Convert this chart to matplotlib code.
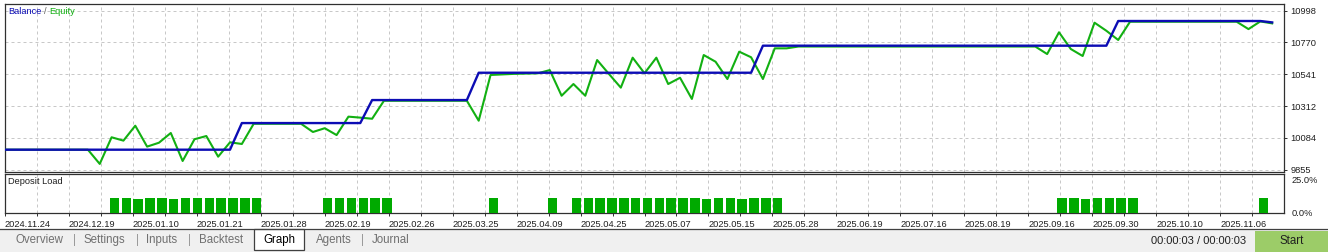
import matplotlib.pyplot as plt
from matplotlib.patches import Rectangle
from matplotlib.lines import Line2D

# balance / equity per deal point (108 points)
balance = ([10000] * 20 + [10191] * 11 + [10356] * 9 + [10552] * 24 +
           [10746] * 30 + [10923] * 13 + [10913])
equity = ([10000] * 8 +
          [9898, 10089, 10065, 10172, 10022, 10050, 10120, 9919, 10075, 10098,
           9950, 10053, 10041] +
          [10186] * 5 +
          [10127, 10154, 10105, 10237, 10230, 10222] +
          [10351] * 8 +
          [10208, 10536, 10540, 10544, 10546, 10548, 10571, 10387, 10471, 10387,
           10643, 10543, 10445, 10660, 10548, 10660, 10471, 10516, 10364, 10679,
           10631, 10507, 10703, 10663, 10507, 10727, 10727] +
          [10740] * 21 +
          [10686, 10842, 10722, 10672, 10911, 10853, 10787] +
          [10918] * 10 +
          [10865, 10920, 10906])

# deposit load bars
load_idx = (list(range(9, 22)) + list(range(27, 33)) + [41, 46] +
            list(range(48, 66)) + list(range(89, 96)) + [106])
short_bars = [11, 14, 59, 62, 91]
load_pct = [10.2 if i in short_bars else 11.2 for i in load_idx]

y_ticks = [9855, 10084, 10312, 10541, 10770, 10998]
date_labels = ["2024.11.24", "2024.12.19", "2025.01.10", "2025.01.21", "2025.01.28",
               "2025.02.19", "2025.02.26", "2025.03.25", "2025.04.09", "2025.04.25",
               "2025.05.07", "2025.05.15", "2025.05.28", "2025.06.19", "2025.07.16",
               "2025.08.19", "2025.09.16", "2025.09.30", "2025.10.10", "2025.11.06"]
tabs = ["Overview", "Settings", "Inputs", "Backtest", "Graph", "Agents", "Journal"]

plt.rcParams['font.family'] = ['Liberation Sans', 'DejaVu Sans']

W, H = 1328, 252
fig = plt.figure(figsize=(W / 100, H / 100), dpi=100)


def fx(x):
    return x / W


def fy(y):
    return 1 - y / H


BLUE = '#0c0cb4'
GREEN = '#12b012'
FRAME = '#303030'
GRID = '#c8c8c8'
FS = 6.7

n = len(balance)
xs = list(range(n))
grid_x = [2.7 * k for k in range(40)]

# main chart
ax = fig.add_axes([fx(5), fy(172), fx(1279), 168 / H])
ax.plot(xs, equity, color=GREEN, lw=1.5, zorder=3)
ax.plot(xs, balance, color=BLUE, lw=1.7, zorder=4)
ax.set_xlim(0, 108)
ax.set_ylim(9840, 11045)
ax.set_xticks(grid_x)
ax.set_xticklabels([])
ax.tick_params(axis='x', length=0)
ax.set_yticks(y_ticks)
ax.set_yticklabels([str(v) for v in y_ticks])
ax.yaxis.tick_right()
ax.tick_params(axis='y', length=2.5, width=0.7, pad=2.2, labelsize=FS,
               color=FRAME, labelcolor='#202020')
ax.grid(True, color=GRID, lw=0.72, linestyle=(0, (3, 3)))
for s in ax.spines.values():
    s.set_color(FRAME)
    s.set_linewidth(0.9)

# legend text
fig.text(fx(8), fy(12), "Balance", color=BLUE, fontsize=FS, va='center')
fig.text(fx(43.5), fy(12), "/", color='#606060', fontsize=FS, va='center')
fig.text(fx(49.5), fy(12), "Equity", color=GREEN, fontsize=FS, va='center')

# deposit load panel
ax2 = fig.add_axes([fx(5), fy(212.7), fx(1279), (212.7 - 173.5) / H])
ax2.bar([i + 0.25 for i in load_idx], load_pct, width=0.8, color='#00aa00', zorder=3)
ax2.set_xlim(0, 108)
ax2.set_ylim(0, 29.3)
ax2.set_xticks(grid_x)
ax2.set_xticklabels([date_labels[k // 2] if k % 2 == 0 else '' for k in range(40)],
                    ha='left')
ax2.tick_params(axis='x', length=2.5, width=0.7, pad=2.5, labelsize=FS,
                color=FRAME, labelcolor='#202020')
ax2.set_yticks([0, 25])
ax2.set_yticklabels(["0.0%", "25.0%"])
ax2.yaxis.tick_right()
ax2.tick_params(axis='y', length=0, pad=5.5, labelsize=FS, labelcolor='#202020')
ax2.grid(True, axis='x', color=GRID, lw=0.72, linestyle=(0, (3, 3)))
for s in ax2.spines.values():
    s.set_color(FRAME)
    s.set_linewidth(0.9)
fig.text(fx(8), fy(181), "Deposit Load", fontsize=FS, va='center', color='#202020')

# tab bar
fig.patches.append(Rectangle((0, 0), 1, fy(229), transform=fig.transFigure,
                             facecolor='#f0f0f0', edgecolor='none', zorder=0))
fig.lines.append(Line2D([0, 1], [fy(229), fy(229)], transform=fig.transFigure,
                        color='#404040', lw=0.9))
fig.patches.append(Rectangle((fx(254), fy(250)), fx(50), (250 - 229) / H,
                             transform=fig.transFigure, facecolor='white',
                             edgecolor='#404040', lw=0.9, zorder=1))

tab_x = [15.5, 84, 146, 199, 263, 315.5, 372]
sep_x = [74, 137, 189, 362]
for name, x in zip(tabs, tab_x):
    fig.text(fx(x), fy(240), name, fontsize=8.3, va='center',
             color='black' if name == "Graph" else '#707070', zorder=2)
for x in sep_x:
    fig.text(fx(x), fy(240), "|", fontsize=8.3, va='center', ha='center',
             color='#909090')

fig.text(fx(1199), fy(241), "00:00:03 / 00:00:03", fontsize=8, va='center',
         ha='center', color='#202020')
fig.patches.append(Rectangle((fx(1255), 0), fx(73), fy(231), transform=fig.transFigure,
                             facecolor='#9ccc68', edgecolor='none', zorder=1))
fig.text(fx(1292), fy(241), "Start", fontsize=8.3, va='center', ha='center',
         color='#202020', zorder=2)

fig.savefig("out.png", dpi=100, facecolor='white')
